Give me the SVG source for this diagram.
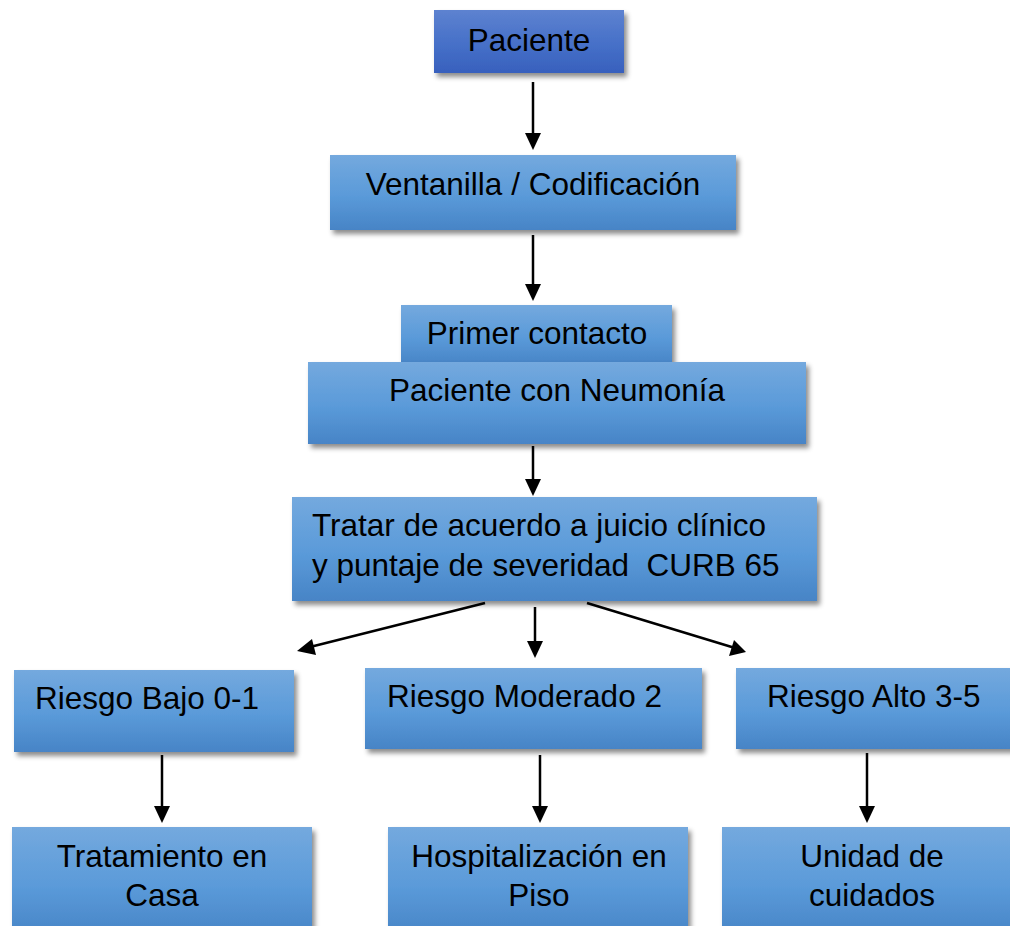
<svg xmlns="http://www.w3.org/2000/svg" width="1010" height="926" viewBox="0 0 1010 926">
<defs>
<linearGradient id="gb" x1="0" y1="0" x2="0" y2="1">
<stop offset="0" stop-color="#74a9de"/>
<stop offset="0.55" stop-color="#5a9ad9"/>
<stop offset="1" stop-color="#4784c6"/>
</linearGradient>
<linearGradient id="gd" x1="0" y1="0" x2="0" y2="1">
<stop offset="0" stop-color="#5d82d0"/>
<stop offset="0.55" stop-color="#4670c8"/>
<stop offset="1" stop-color="#3860bd"/>
</linearGradient>
<filter id="sh" x="-10%" y="-20%" width="125%" height="150%">
<feDropShadow dx="3" dy="4" stdDeviation="2.5" flood-color="#000" flood-opacity="0.45"/>
</filter>
</defs>
<style>
.box{fill:url(#gb);filter:url(#sh)}
.dk{fill:url(#gd);filter:url(#sh)}
text{font-family:"Liberation Sans",Arial,sans-serif;font-size:31.5px;fill:#000}
.c{text-anchor:middle}
.ln{stroke:#000;stroke-width:2.5;fill:none}
</style>
<g id="connectors">
<line class="ln" x1="533" y1="82" x2="533" y2="140"/>
<path d="M525,133 L541,133 L533,150 z"/>
<line class="ln" x1="533" y1="235" x2="533" y2="290"/>
<path d="M525,284 L541,284 L533,301 z"/>
<line class="ln" x1="533" y1="446" x2="533" y2="485"/>
<path d="M525,479 L541,479 L533,496 z"/>
<line class="ln" x1="485" y1="603" x2="310" y2="647"/>
<path d="M297,651 L312,639 L316,655 z"/>
<line class="ln" x1="535" y1="607" x2="535" y2="645"/>
<path d="M527,641 L543,641 L535,658 z"/>
<line class="ln" x1="587" y1="603" x2="735" y2="648"/>
<path d="M746,652 L729,656 L734,640 z"/>
<line class="ln" x1="162" y1="755" x2="162" y2="810"/>
<path d="M154,806 L170,806 L162,823 z"/>
<line class="ln" x1="540" y1="755" x2="540" y2="810"/>
<path d="M532,806 L548,806 L540,823 z"/>
<line class="ln" x1="867" y1="753" x2="867" y2="810"/>
<path d="M859,806 L875,806 L867,823 z"/>
</g>
<g id="n-paciente"><rect class="dk" x="434" y="10" width="190" height="63"/><text class="c" x="529" y="51">Paciente</text></g>
<g id="n-ventanilla"><rect class="box" x="330" y="155" width="406" height="75"/><text class="c" x="533" y="195">Ventanilla / Codificación</text></g>
<g id="n-primer"><rect class="box" x="401" y="305" width="271" height="60"/><text class="c" x="537" y="344">Primer contacto</text></g>
<g id="n-neumonia"><rect class="box" x="308" y="362" width="498" height="82"/><text class="c" x="557" y="401">Paciente con Neumonía</text></g>
<g id="n-tratar"><rect class="box" x="292" y="497" width="525" height="104"/><text x="312" y="536">Tratar de acuerdo a juicio clínico</text><text x="312" y="576" xml:space="preserve">y puntaje de severidad  CURB 65</text></g>
<g id="n-bajo"><rect class="box" x="14" y="670" width="280" height="82"/><text x="35" y="709">Riesgo Bajo 0-1</text></g>
<g id="n-moderado"><rect class="box" x="365" y="668" width="337" height="81"/><text x="387" y="707">Riesgo Moderado 2</text></g>
<g id="n-alto"><rect class="box" x="736" y="668" width="280" height="81"/><text x="767" y="707">Riesgo Alto 3-5</text></g>
<g id="n-casa"><rect class="box" x="12" y="827" width="300" height="110"/><text class="c" x="162" y="867">Tratamiento en</text><text class="c" x="162" y="906">Casa</text></g>
<g id="n-piso"><rect class="box" x="388" y="827" width="300" height="110"/><text class="c" x="539" y="867">Hospitalización en</text><text class="c" x="539" y="906">Piso</text></g>
<g id="n-unidad"><rect class="box" x="722" y="827" width="300" height="110"/><text class="c" x="872" y="867">Unidad de</text><text class="c" x="872" y="906">cuidados</text></g>
</svg>
